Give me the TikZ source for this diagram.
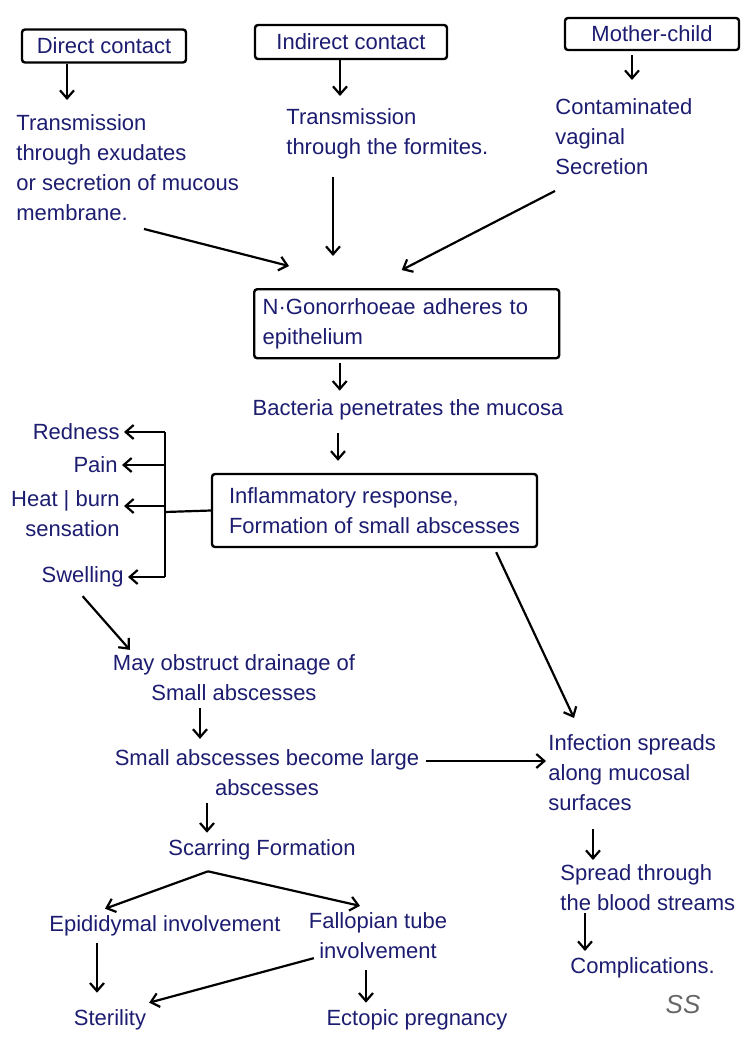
\documentclass[tikz,border=0pt]{standalone}
\usepackage{fontspec}
\setmainfont{Liberation Sans}
\usetikzlibrary{arrows.meta,calc}
\definecolor{ink}{RGB}{28,28,112}
\tikzset{
  every node/.style={text=ink, font=\fontsize{11}{15}\selectfont},
  cause/.style={draw=black, line width=1.2pt, rounded corners=1.5pt, inner sep=3pt},
  stage/.style={align=left, inner sep=1pt},
  link/.style={line width=1.1pt},
  arr/.style={-{Straight Barb[length=4pt,width=7pt]}, line width=1.1pt},
}

\begin{document}
\begin{tikzpicture}[x=0.5pt,y=-0.5pt]
\useasboundingbox (0,0) rectangle (748,1057);

% modes of transmission
\node[cause, minimum width=82pt, minimum height=16.5pt] (dc) at (104,46) {Direct contact};
\node[cause, minimum width=96pt, minimum height=17pt] (ic) at (351,42) {Indirect contact};
\node[cause, minimum width=87pt, minimum height=16pt] (mc) at (652,34) {Mother-child};

\node[stage, anchor=north west] (dtx) at (14,112) {Transmission\\through exudates\\or secretion of mucous\\membrane.};
\node[stage, anchor=north west] (itx) at (284,106) {Transmission\\through the formites.};
\node[stage, anchor=north west] (mtx) at (553,96) {Contaminated\\vaginal\\Secretion};

\draw[arr, shorten >=6pt] ([xshift=-18.5pt]dc.south) -- ([xshift=-18.5pt]dc.south |- dtx.north);
\draw[arr, shorten >=5pt] ([xshift=-5.5pt]ic.south) -- ([xshift=-5.5pt]ic.south |- itx.north);
\draw[arr, shorten <=2pt, shorten >=8pt] ([xshift=-10pt]mc.south) -- ([xshift=-10pt]mc.south |- mtx.north);

% adhesion
\node[cause, anchor=north west, minimum width=152.5pt, minimum height=34.5pt, text width=144pt, align=left] (adh) at (253,288) {N·Gonorrhoeae adheres to\\epithelium};

\draw[arr] ([xshift=65pt,yshift=-3pt]dtx.south west) -- ([xshift=18pt,yshift=11pt]adh.north west);
\draw[arr, shorten >=16pt] ([xshift=24.5pt,yshift=-8pt]itx.south west) -- ([xshift=24.5pt]itx.south west |- adh.north);
\draw[arr] ([xshift=1pt,yshift=-7pt]mtx.south west) -- ([xshift=-2.5pt,yshift=9pt]adh.north);

\node (bac) at (408,410) {Bacteria penetrates the mucosa};
\draw[arr, shorten <=2pt, shorten >=1pt] ([xshift=-33.5pt]adh.south) -- ([xshift=-33.5pt]adh.south |- bac.north);

% inflammation
\node[cause, minimum width=162.5pt, minimum height=36.5pt, align=left] (inf) at (374.5,510.5) {Inflammatory response,\\Formation of small abscesses};
\draw[arr, shorten <=3pt, shorten >=6pt] ([xshift=-35pt]bac.south) -- ([xshift=-35pt]bac.south |- inf.north);

% signs
\node[anchor=east, inner sep=2pt] (red) at (124,432) {Redness};
\node[anchor=east, inner sep=2pt] (pain) at (122,465) {Pain};
\node[anchor=east, inner sep=2pt, align=right] (heat) at (124,514) {Heat | burn\\sensation};
\node[anchor=east, inner sep=2pt] (swl) at (128,577) {Swelling};

\coordinate (trunk) at (165,512);
\draw[link] (inf.west) -- (trunk);
\draw[link] (trunk |- red.east) -- (trunk |- swl.east);
\foreach \s in {red,pain,swl}
  \draw[arr] (trunk |- \s.east) -- (\s.east);
\draw[arr] ([yshift=4pt]trunk |- heat.east) -- ([yshift=4pt]heat.east);

% abscesses
\node[align=center] (obs) at (234,678) {May obstruct drainage of\\Small abscesses};
\draw[arr, shorten <=3pt] ([xshift=-2pt]swl.south) -- ([xshift=12pt,yshift=-1pt]obs.north west);

\node[align=center] (lrg) at (267,773) {Small abscesses become large\\abscesses};
\draw[arr, shorten >=2pt] ([xshift=-17pt]obs.south) -- ([xshift=-17pt]obs.south |- lrg.north);

\node (scf) at (262,850) {Scarring Formation};
\draw[arr] ([xshift=-30pt]lrg.south) -- ([xshift=-30pt]lrg.south |- scf.north);

\coordinate (split) at ([xshift=-27pt,yshift=-2pt]scf.south);
\node (epi) at (165,926) {Epididymal involvement};
\node[align=center] (fal) at (378,936) {Fallopian tube\\involvement};
\draw[arr] (split) -- ([xshift=-30pt]epi.north);
\draw[arr] (split) -- ([xshift=-9pt]fal.north);

\node (ste) at (110,1020) {Sterility};
\node (ect) at (417,1020) {Ectopic pregnancy};
\draw[arr, shorten >=5pt] ([xshift=-34pt]epi.south) -- ([xshift=-34pt]epi.south |- ste.north);
\draw[arr] ([xshift=6pt,yshift=4pt]fal.south west) -- ([xshift=-2pt]ste.north east);
\draw[arr, shorten <=2pt] ([xshift=-6pt]fal.south) -- ([xshift=-6pt]fal.south |- ect.north);

% spread
\node[stage, anchor=north west] (spr) at (546,732) {Infection spreads\\along mucosal\\surfaces};
\draw[arr] ([xshift=-21pt,yshift=-2pt]inf.south east) -- ([xshift=14pt,yshift=7pt]spr.north west);
\draw[arr] ([yshift=6pt]lrg.east) -- ([yshift=6pt]lrg.east -| spr.west);

\node[stage, anchor=north west] (blo) at (558,862) {Spread through\\the blood streams};
\draw[arr, shorten >=1pt] ([xshift=23.5pt,yshift=-8pt]spr.south west) -- ([xshift=23.5pt]spr.south west |- blo.north);

\node[stage, anchor=north west] (cmp) at (568,955) {Complications.};
\draw[arr, shorten >=2pt] ([xshift=13.5pt]blo.south west) -- ([xshift=13.5pt]blo.south west |- cmp.north);

\node[text=black!60, font=\fontsize{13}{13}\selectfont\itshape] (sig) at (683,1005) {SS};
\end{tikzpicture}
\end{document}
